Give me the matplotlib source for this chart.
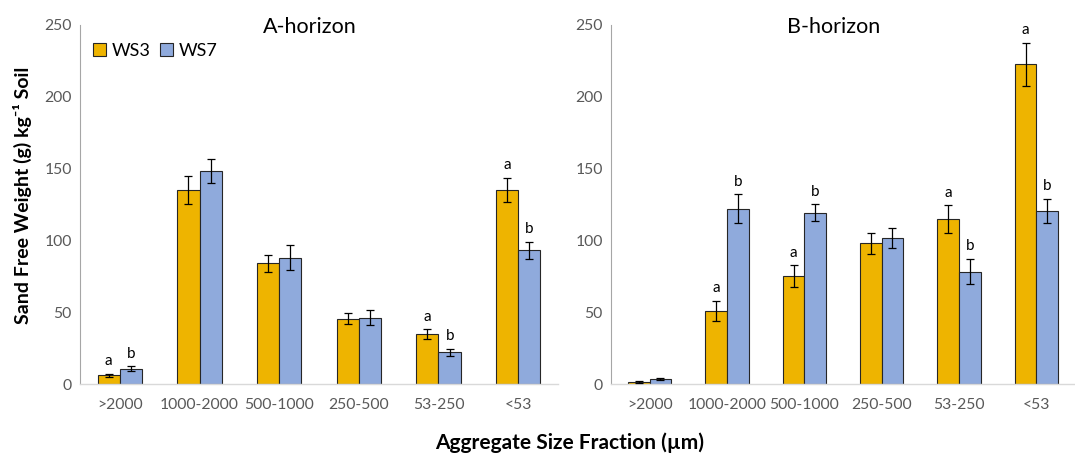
import numpy as np
import matplotlib
matplotlib.use("Agg")
import matplotlib.pyplot as plt
from matplotlib.patches import Patch

plt.rcParams['font.family'] = ['Lato', 'DejaVu Sans']

# --------------------- data ---------------------
fractions = [">2000", "1000-2000", "500-1000", "250-500", "53-250", "<53"]

a_ws3 = [6, 135, 84, 45.5, 34.5, 135]
a_ws3_err = [1.0, 9.5, 6, 4, 3.5, 8.5]
a_ws7 = [10.7, 148.5, 88, 46.2, 22, 93]
a_ws7_err = [1.5, 8.5, 8.5, 5, 2.5, 6]
a_ws3_lbl = ["a", "", "", "", "a", "a"]
a_ws7_lbl = ["b", "", "", "", "b", "b"]

b_ws3 = [1.4, 51, 75, 98, 115, 222.7]
b_ws3_err = [0.4, 6.8, 7.7, 7.5, 9.6, 15]
b_ws7 = [3.3, 122, 119.3, 101.5, 78.3, 120.4]
b_ws7_err = [0.6, 10, 6, 7, 8.9, 8.6]
b_ws3_lbl = ["", "a", "a", "", "a", "a"]
b_ws7_lbl = ["", "b", "b", "", "b", "b"]

GOLD = "#EEB400"
BLUE = "#8FAADC"
TICK_GRAY = "#595959"
W = 0.28

fig = plt.figure(figsize=(10.75, 4.54), dpi=100)
ax_a = fig.add_axes([80/1075, 70/454, 478/1075, 359/454])
ax_b = fig.add_axes([611/1075, 70/454, 464/1075, 359/454])


def draw_panel(ax, ws3, ws3_err, ws7, ws7_err, lbl3, lbl7, title):
    x = np.arange(len(fractions))
    for xs, vals, errs, col, lbls in [(x - W/2, ws3, ws3_err, GOLD, lbl3),
                                      (x + W/2, ws7, ws7_err, BLUE, lbl7)]:
        ax.bar(xs, vals, W, color=col, edgecolor="#262626", linewidth=0.8, zorder=2)
        ax.errorbar(xs, vals, yerr=errs, fmt="none", ecolor="black",
                    elinewidth=0.9, capsize=3, capthick=0.9, zorder=3)
        for xi, v, e, l in zip(xs, vals, errs, lbls):
            if l:
                ax.annotate(l, (xi, v + e), xytext=(0, 4), textcoords="offset points",
                            ha="center", va="bottom", fontsize=11, color="black")
    ax.set_xlim(-0.5, 5.5)
    ax.set_ylim(0, 250)
    ax.set_yticks(range(0, 251, 50))
    ax.set_xticks(x)
    ax.set_xticklabels(fractions)
    ax.tick_params(axis="both", length=0, labelsize=11.3, labelcolor=TICK_GRAY)
    ax.tick_params(axis="x", pad=10)
    ax.tick_params(axis="y", pad=6)
    for s in ["top", "right"]:
        ax.spines[s].set_visible(False)
    ax.spines["left"].set_color("#A6A6A6")
    ax.spines["bottom"].set_color("#D9D9D9")
    ax.spines["bottom"].set_linewidth(1.0)
    ax.text(0.48, 0.995, title, transform=ax.transAxes, ha="center", va="center",
            fontsize=15.5, color="black")


draw_panel(ax_a, a_ws3, a_ws3_err, a_ws7, a_ws7_err, a_ws3_lbl, a_ws7_lbl, "A-horizon")
draw_panel(ax_b, b_ws3, b_ws3_err, b_ws7, b_ws7_err, b_ws3_lbl, b_ws7_lbl, "B-horizon")

handles = [Patch(facecolor=GOLD, edgecolor="#262626", linewidth=0.8, label="WS3"),
           Patch(facecolor=BLUE, edgecolor="#262626", linewidth=0.8, label="WS7")]
ax_a.legend(handles=handles, loc="upper left", bbox_to_anchor=(0.0, 0.985), ncol=2,
            frameon=False, fontsize=13, handlelength=0.75, handleheight=0.75,
            handletextpad=0.3, columnspacing=0.5, borderaxespad=0.3)

fig.text(22/1075, 1 - 195/454, "Sand Free Weight (g) kg\u207b\u00b9 Soil", rotation=90,
         ha="center", va="center", fontsize=14, fontweight="bold")
fig.text(570/1075, 1 - 443/454, "Aggregate Size Fraction (\u00b5m)", ha="center", va="center",
         fontsize=15, fontweight="bold")

fig.savefig("out.png", dpi=100)
